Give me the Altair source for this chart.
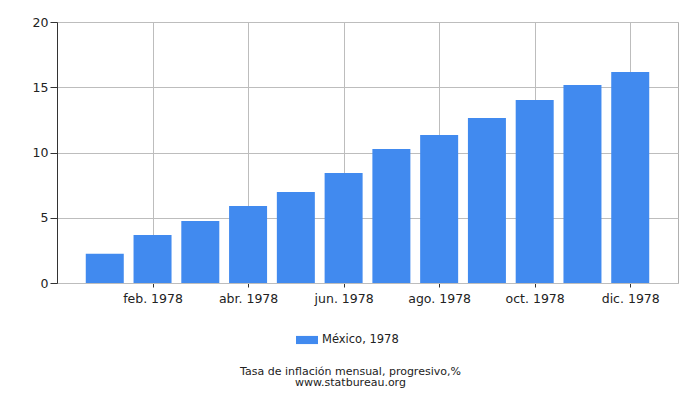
import altair as alt
import pandas as pd

months = ["ene. 1978", "feb. 1978", "mar. 1978", "abr. 1978", "may. 1978", "jun. 1978",
          "jul. 1978", "ago. 1978", "sep. 1978", "oct. 1978", "nov. 1978", "dic. 1978"]
values = [2.25, 3.68, 4.75, 5.90, 6.97, 8.43, 10.27, 11.34, 12.64, 14.02, 15.17, 16.17]
series = "México, 1978"
y_ticks = [0, 5, 10, 15, 20]
x_ticks = [2, 4, 6, 8, 10, 12]

df = pd.DataFrame({
    "idx": list(range(1, len(months) + 1)),
    "month": months,
    "value": values,
    "series": [series] * len(months),
})

label_arr = "[" + ",".join(["''"] + ["'" + m + "'" for m in months] + ["''"]) + "]"

chart = alt.Chart(df).mark_bar(size=38, color="#418AEF").encode(
    x=alt.X("idx:Q",
            scale=alt.Scale(domain=[0, 13], nice=False, zero=False, padding=0),
            axis=alt.Axis(values=x_ticks, labelExpr=label_arr + "[datum.value]",
                          title=None, grid=True, gridColor="#bdbdbd",
                          domainColor="#bdbdbd", tickColor="#333333", tickSize=4,
                          labelPadding=5, labelFontSize=12.5, labelColor="#222222",
                          labelFont="DejaVu Sans")),
    y=alt.Y("value:Q",
            scale=alt.Scale(domain=[0, 20], nice=False, padding=0),
            axis=alt.Axis(values=y_ticks, title=None, grid=True, gridColor="#bdbdbd",
                          domainColor="#333333", tickColor="#333333", tickSize=7,
                          labelPadding=2, labelFontSize=12.5, labelColor="#222222",
                          labelFont="DejaVu Sans")),
    color=alt.Color("series:N",
                    scale=alt.Scale(range=["#418AEF"]),
                    legend=alt.Legend(title=None, orient="none", legendX=239, legendY=307,
                                      direction="horizontal",
                                      symbolType="M-1,-0.37L1,-0.37L1,0.37L-1,0.37Z",
                                      symbolSize=484, symbolStrokeWidth=0,
                                      labelFontSize=11.5, labelFont="DejaVu Sans",
                                      labelColor="#222222", labelOffset=4)),
).properties(
    width=621,
    height=261,
    padding={"left": 49, "top": 14, "right": 14, "bottom": 110},
    autosize=alt.AutoSizeParams(type="none"),
    title=alt.TitleParams(
        ["Tasa de inflación mensual, progresivo,%", "www.statbureau.org"],
        orient="bottom", anchor="middle", frame="group", dx=-17,
        offset=20, fontSize=11, font="DejaVu Sans", fontWeight="normal",
        color="#222222", lineHeight=11),
).configure_view(stroke="#b0b0b0")

chart.save("out.html", embed_options={"renderer": "svg", "actions": False})
